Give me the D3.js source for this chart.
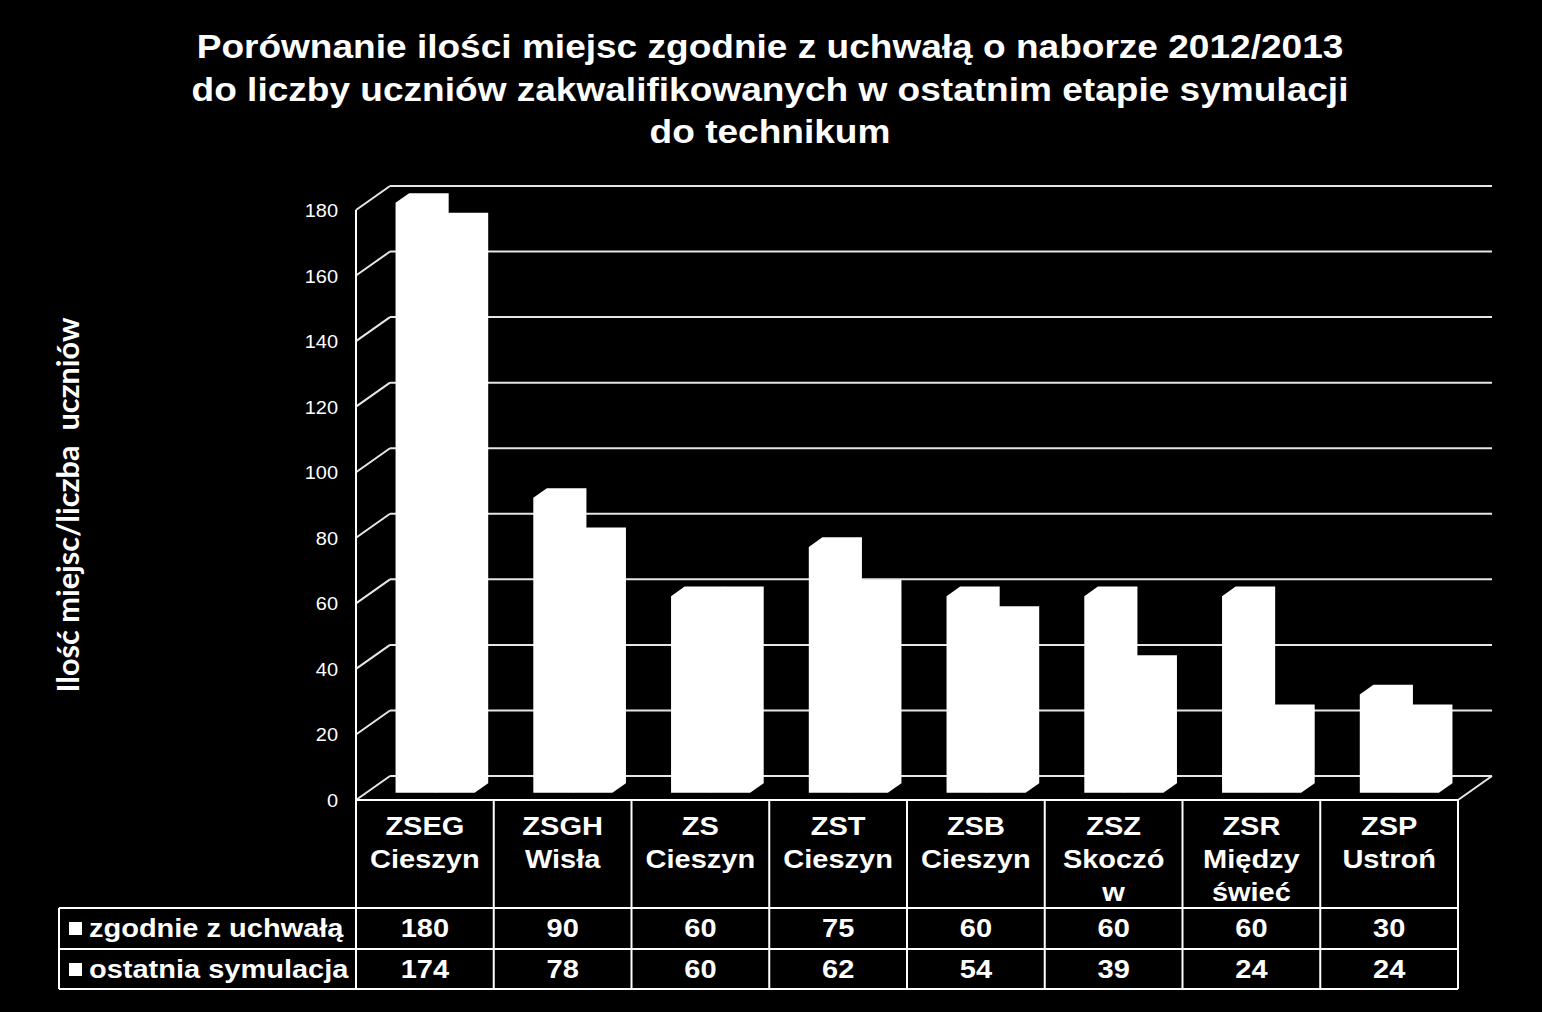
<!DOCTYPE html>
<html><head><meta charset="utf-8">
<script src="https://cdn.jsdelivr.net/npm/d3@7"></script>
<style>html,body{margin:0;padding:0;background:#000;overflow:hidden}</style>
</head><body>
<svg id="chart" width="1542" height="1012"></svg>
<script>
const titleLines = [
  "Porównanie ilości miejsc zgodnie z uchwałą o naborze 2012/2013",
  "do liczby uczniów zakwalifikowanych w ostatnim etapie symulacji",
  "do technikum"
];
const yAxisTitle = "Ilość miejsc/liczba  uczniów";
const categories = ["ZSEG Cieszyn","ZSGH Wisła","ZS Cieszyn","ZST Cieszyn","ZSB Cieszyn","ZSZ Skoczów","ZSR Międzyświeć","ZSP Ustroń"];
const categoryLines = [["ZSEG","Cieszyn"],["ZSGH","Wisła"],["ZS","Cieszyn"],["ZST","Cieszyn"],["ZSB","Cieszyn"],["ZSZ","Skoczó","w"],["ZSR","Między","świeć"],["ZSP","Ustroń"]];
const seriesNames = ["zgodnie z uchwałą","ostatnia symulacja"];
const placesByResolution = [180,90,60,75,60,60,60,30];
const lastSimulation = [174,78,60,62,54,39,24,24];
const yTicks = [0,20,40,60,80,100,120,140,160,180];

const series = [placesByResolution, lastSimulation];

const svg = d3.select("#chart");
svg.append("rect").attr("width",1542).attr("height",1012).attr("fill","#000");

const X0 = 356, X1 = 1458, FLOOR = 800, TOP = 210;
const DX = 34, DY = -24;      // depth offset of the back wall
const T0 = 0.3, T1 = 0.7;     // bar depth range
const SX = 1.16;              // horizontal text stretch

const x = d3.scaleBand().domain(categories).range([X0, X1]).paddingInner(0).paddingOuter(0);
const y = d3.scaleLinear().domain([0,180]).range([FLOOR, TOP]);
const bw = x.bandwidth() * 0.287;
const groupOff = (x.bandwidth() - 2*bw) / 2;

function txt(g, px, py, str, size, weight, anchor, sx) {
  return g.append("text")
    .attr("transform", `translate(${px},${py}) scale(${sx||SX},1)`)
    .attr("text-anchor", anchor || "middle")
    .attr("font-family", "'Liberation Sans', Arial, sans-serif")
    .attr("font-size", size).attr("font-weight", weight || "bold")
    .attr("fill", "#fff").text(str);
}

// Title
titleLines.forEach((t,i) => txt(svg, 770, 58 + i*42.5, t, 34, "bold", "middle", 1.09));

// Y axis title (rotated)
svg.append("text")
  .attr("transform", "translate(79,505) rotate(-90) scale(1,1.12)")
  .attr("text-anchor","middle")
  .attr("font-family","Lato, 'Open Sans', sans-serif")
  .attr("font-size", 28).attr("font-weight","bold")
  .attr("fill","#fff")
  .style("white-space","pre")
  .attr("xml:space","preserve")
  .attr("textLength", 375).attr("lengthAdjust","spacingAndGlyphs")
  .text(yAxisTitle);

const grid = svg.append("g").attr("stroke","#e6e6e6").attr("stroke-width",2).attr("fill","none");
// back wall gridlines + left wall diagonals
yTicks.forEach(v => {
  const yy = y(v);
  grid.append("line").attr("x1",X0).attr("y1",yy).attr("x2",X0+DX).attr("y2",yy+DY);
  grid.append("line").attr("x1",X0+DX).attr("y1",yy+DY).attr("x2",X1+DX).attr("y2",yy+DY);
});
// right floor edge
grid.append("line").attr("x1",X1).attr("y1",FLOOR).attr("x2",X1+DX).attr("y2",FLOOR+DY);

// Bars
const bars = svg.append("g");
categories.forEach((c,i) => {
  series.forEach((vals,s) => {
    const v = vals[i];
    const xl = x(c) + groupOff + s*bw + T0*DX;
    const xr = xl + bw;
    const dd = (T1-T0)*DX, dy = (T1-T0)*DY;
    const yt = y(v) + T0*DY, yb = y(0) + T0*DY;
    const pts = [[xl,yb],[xl,yt],[xl+dd,yt+dy],[xr+dd,yt+dy],[xr+dd,yb+dy],[xr,yb]];
    bars.append("polygon").attr("points", pts.map(p=>p.join(",")).join(" "))
      .attr("fill","#fff");
  });
});

// Y tick labels
yTicks.forEach(v => {
  txt(svg, 338, y(v)+7, String(v), 19, "normal", "end", 1.05);
});

// Front axis line
svg.append("line").attr("x1",X0).attr("y1",TOP).attr("x2",X0).attr("y2",989)
  .attr("stroke","#fff").attr("stroke-width",2);

// Data table
const tbl = svg.append("g").attr("stroke","#fff").attr("stroke-width",2);
const rowY = [FLOOR, 908, 949, 989];
tbl.append("line").attr("x1",X0).attr("x2",X1).attr("y1",rowY[0]).attr("y2",rowY[0]);
[1,2,3].forEach(k => tbl.append("line").attr("x1",59).attr("x2",X1).attr("y1",rowY[k]).attr("y2",rowY[k]));
categories.forEach(c => tbl.append("line").attr("x1",x(c)+x.bandwidth()).attr("x2",x(c)+x.bandwidth()).attr("y1",FLOOR).attr("y2",989));
tbl.append("line").attr("x1",59).attr("x2",59).attr("y1",908).attr("y2",989);

categories.forEach((c,i) => {
  const cx = x(c) + x.bandwidth()/2;
  categoryLines[i].forEach((ln,k) => txt(svg, cx, 835 + k*33, ln, 25, "bold"));
  series.forEach((vals,s) => txt(svg, cx, 937 + s*41, String(vals[i]), 25, "bold"));
});

seriesNames.forEach((n,s) => {
  const cy = 928 + s*41;
  svg.append("rect").attr("x",69).attr("y",cy-6).attr("width",13).attr("height",13).attr("fill","#fff");
  txt(svg, 89, cy+9, n, 25, "bold", "start");
});
</script>
</body></html>
